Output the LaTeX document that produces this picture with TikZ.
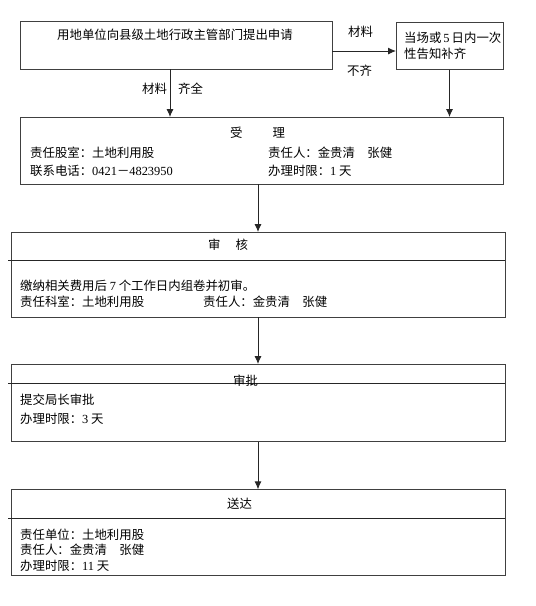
\documentclass[tikz,border=0pt]{standalone}
\usepackage{fontspec}
\setmainfont{Liberation Serif}
\newfontfamily\cjk{Noto Sans CJK SC}
\usetikzlibrary{arrows.meta}
\newcommand{\shu}[1]{{\rmfamily #1}}
\tikzset{
  kuang/.style={draw=black!75, line width=1pt, inner sep=0pt, outer sep=0pt},
  wenzi/.style={anchor=west, inner sep=0pt, font=\cjk\fontsize{12.4}{14}\selectfont},
  jiantou/.style={draw=black!85, line width=0.9pt, -{Latex[length=8pt,width=7pt]}},
  fenge/.style={draw=black!85, line width=0.9pt}
}
\begin{document}
\begin{tikzpicture}[x=1pt, y=-1pt]
  \useasboundingbox (0,0) rectangle (536,606);
  % 申请和补齐
  \node[kuang, minimum width=311.3pt, minimum height=47.6pt] (apply) at (176.4,45.5) {};
  \node[kuang, minimum width=107pt, minimum height=47.5pt] (notify) at (449.5,45.75) {};
  \node[wenzi] (t1) at (57,35) {用地单位向县级土地行政主管部门提出申请};
  \node[wenzi] (t2) at (404,38.3) {当场或\,\shu{5}\,日内一次};
  \node[wenzi] (t3) at (404,54.3) {性告知补齐};
  \draw[jiantou] ([yshift=-5.5pt]apply.east) -- ([yshift=-5.5pt]apply.east -| notify.west);
  \node[wenzi] (l1) at (348,32) {材料};
  \node[wenzi] (l2) at (347,71) {不齐};
  % 受理
  \node[kuang, minimum width=482.3pt, minimum height=67pt] (accept) at (261.9,150.5) {};
  \draw[jiantou] ([xshift=-6.4pt]apply.south) -- ([xshift=-6.4pt]apply.south |- accept.north);
  \draw[jiantou] (notify.south) -- (notify.south |- accept.north);
  \node[wenzi] (l3) at (142,89) {材料};
  \node[wenzi] (l4) at (178,89) {齐全};
  \node[wenzi] (t4) at (230,133) {受\hspace{30pt}理};
  \node[wenzi] (t5) at (30,152.7) {责任股室：土地利用股};
  \node[wenzi] (t6) at (268,152.7) {责任人：金贵清\quad 张健};
  \node[wenzi] (t7) at (30,170.7) {联系电话：\shu{0421}－\shu{4823950}};
  \node[wenzi] (t8) at (268,170.7) {办理时限：\shu{1} 天};
  % 审核
  \node[kuang, minimum width=494pt, minimum height=85pt] (check) at (258,274.5) {};
  \draw[jiantou] ([xshift=-3.9pt]accept.south) -- ([xshift=-3.9pt]accept.south |- check.north);
  \draw[fenge] ([xshift=-3pt]check.west |- 0,260.7) -- (check.east |- 0,260.7);
  \node[wenzi] (t9) at (208,245) {审\hspace{15pt}核};
  \node[wenzi] (t10) at (20,285.7) {缴纳相关费用后 \shu{7} 个工作日内组卷并初审。};
  \node[wenzi] (t11) at (20,302) {责任科室：土地利用股};
  \node[wenzi] (t12) at (203,302) {责任人：金贵清\quad 张健};
  % 审批
  \node[kuang, minimum width=494pt, minimum height=77.7pt] (approve) at (258,402.9) {};
  \draw[jiantou] (check.south) -- (approve.north);
  \draw[fenge] ([xshift=-3pt]approve.west |- 0,383.7) -- (approve.east |- 0,383.7);
  \node[wenzi] (t13) at (233,380.7) {审批};
  \node[wenzi] (t14) at (20,400) {提交局长审批};
  \node[wenzi] (t15) at (20,419) {办理时限：\shu{3} 天};
  % 送达
  \node[kuang, minimum width=494pt, minimum height=85.7pt] (deliver) at (258,532.2) {};
  \draw[jiantou] (approve.south) -- (deliver.north);
  \draw[fenge] ([xshift=-3pt]deliver.west |- 0,518.3) -- (deliver.east |- 0,518.3);
  \node[wenzi] (t16) at (227,503.3) {送达};
  \node[wenzi] (t17) at (20,535) {责任单位：土地利用股};
  \node[wenzi] (t18) at (20,550) {责任人：金贵清\quad 张健};
  \node[wenzi] (t19) at (20,565.7) {办理时限：\shu{11} 天};
\end{tikzpicture}
\end{document}
